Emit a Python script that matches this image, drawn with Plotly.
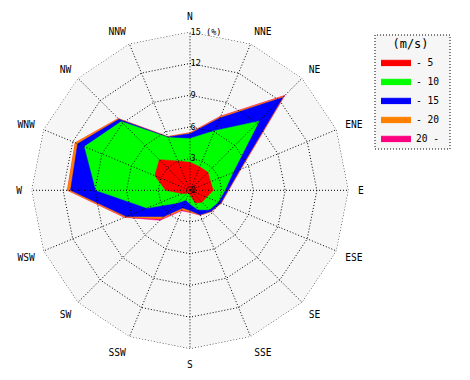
import numpy as np
import plotly.graph_objects as go

# ---- data -------------------------------------------------------------
directions = ["N", "NNE", "NE", "ENE", "E", "ESE", "SE", "SSE",
              "S", "SSW", "SW", "WSW", "W", "WNW", "NW", "NNW"]
speed_classes = ["- 5", "- 10", "- 15", "- 20", "20 -"]
class_colors = ["#ff0000", "#00ff00", "#0000ff", "#ff8000", "#ff0080"]

# frequency (%) of each speed class per direction
freq_0_5   = [2.65, 2.40, 2.40, 2.10, 2.20, 1.70, 1.60, 1.30, 0.45, 0.30, 0.40, 0.80, 2.30, 3.60, 4.10, 3.00]
freq_5_10  = [2.25, 3.70, 6.85, 2.30, 1.10, 1.20, 1.00, 0.70, 0.85, 0.70, 1.30, 3.60, 6.60, 7.20, 5.10, 2.40]
freq_10_15 = [0.45, 1.30, 3.15, 0.70, 0.30, 0.25, 0.20, 0.50, 0.60, 0.80, 1.80, 2.10, 2.40, 0.70, 0.30, 0.05]
freq_15_20 = [0.10, 0.15, 0.20, 0.10, 0.05, 0.05, 0.05, 0.05, 0.15, 0.20, 0.30, 0.15, 0.30, 0.25, 0.10, 0.05]
freq_20_up = [0.00, 0.05, 0.10, 0.00, 0.00, 0.00, 0.00, 0.00, 0.05, 0.10, 0.20, 0.05, 0.00, 0.00, 0.00, 0.00]

radial_tickvals = [0, 3, 6, 9, 12, 15]
radial_ticktext = ["0", "3", "6", "9", "12", "15 (%)"]
r_max = 15

# ---- figure -----------------------------------------------------------
classes = [freq_0_5, freq_5_10, freq_10_15, freq_15_20, freq_20_up]
cumulative = np.cumsum(np.array(classes), axis=0)

theta_closed = directions + [directions[0]]
fig = go.Figure()

# outermost (cumulative total) first, innermost on top
for i in reversed(range(len(classes))):
    r = list(cumulative[i]) + [cumulative[i][0]]
    fig.add_trace(go.Scatterpolar(
        r=r, theta=theta_closed, mode="lines", fill="toself",
        fillcolor=class_colors[i], line=dict(color=class_colors[i], width=0.5),
        name=speed_classes[i], hoverinfo="skip"))

# dotted grid drawn above the areas
dot = "1px,2px"
for rv in radial_tickvals[1:]:
    fig.add_trace(go.Scatterpolar(
        r=[rv] * len(theta_closed), theta=theta_closed, mode="lines",
        line=dict(color="black", width=1, dash=dot),
        showlegend=False, hoverinfo="skip"))
spoke_r, spoke_t = [], []
for d in directions:
    spoke_r += [0, r_max, None]
    spoke_t += [d, d, None]
fig.add_trace(go.Scatterpolar(
    r=spoke_r, theta=spoke_t, mode="lines",
    line=dict(color="black", width=1, dash=dot),
    showlegend=False, hoverinfo="skip"))

# page body adds an 8px margin, so the figure is laid out in 462x372
W, H = 462, 372
font_mono = "DejaVu Sans Mono"
fig.update_layout(
    width=W, height=H,
    margin=dict(l=0, r=0, t=0, b=0),
    paper_bgcolor="white",
    font=dict(family=font_mono, size=9.6, color="black"),
    polar=dict(
        domain=dict(x=[23.4 / W, 340.6 / W], y=[31.1 / H, 348.3 / H]),
        bgcolor="#f6f6f6",
        gridshape="linear",
        radialaxis=dict(
            range=[0, r_max], angle=90, side="clockwise",
            tickvals=radial_tickvals, ticktext=radial_ticktext,
            tickangle=90, showgrid=False, showline=False, ticks="",
            tickfont=dict(family=font_mono, size=8.6, color="black")),
        angularaxis=dict(
            type="category", categoryarray=directions,
            rotation=90, direction="clockwise",
            showgrid=False, showline=False,
            ticks="outside", ticklen=7, tickcolor="rgba(0,0,0,0)",
            tickfont=dict(family=font_mono, size=9.6, color="black")),
    ),
    legend=dict(
        x=368 / W, y=1 - 24 / H, xanchor="left", yanchor="top",
        bgcolor="rgba(0,0,0,0)", borderwidth=0,
        traceorder="reversed",
        title=dict(text="(m/s)", side="top center"),
        font=dict(family=font_mono, size=9.6, color="black")),
    shapes=[dict(type="rect", xref="paper", yref="paper",
                 x0=367 / W, x1=442 / W, y0=1 - 141 / H, y1=1 - 27 / H,
                 line=dict(color="black", width=1, dash=dot),
                 fillcolor="#f6f6f6", layer="below")],
)

fig.write_html("out.html")
